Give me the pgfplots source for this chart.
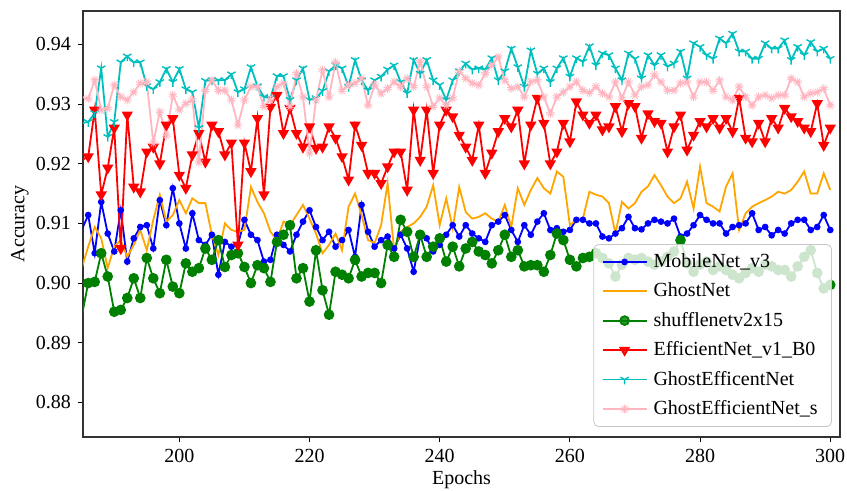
\documentclass[border=0pt]{standalone}
\usepackage{fontspec}
\setmainfont{Liberation Serif}
\usepackage{pgfplots}
\usepackage{pgfplotstable}
\pgfplotsset{compat=1.18}
\usetikzlibrary{plotmarks}
\definecolor{mplblue}{RGB}{0,0,255}
\definecolor{mplorange}{RGB}{255,165,0}
\definecolor{mplgreen}{RGB}{0,128,0}
\definecolor{mplred}{RGB}{255,0,0}
\definecolor{mplcyan}{RGB}{0,191,191}
\definecolor{mplpink}{RGB}{255,182,193}

\pgfplotstableread{
e b o g r c p
185 0.9089 0.9025 0.8944 0.9206 0.9268 0.9312
186 0.9114 0.9061 0.9000 0.9212 0.9270 0.9309
187 0.9050 0.9094 0.9002 0.9290 0.9285 0.9340
188 0.9136 0.9075 0.9050 0.9148 0.9360 0.9290
189 0.9083 0.9025 0.9011 0.9193 0.9245 0.9293
190 0.9053 0.9061 0.8952 0.9260 0.9270 0.9332
191 0.9122 0.9072 0.8955 0.9058 0.9370 0.9312
192 0.9036 0.9044 0.8975 0.9282 0.9380 0.9307
193 0.9075 0.9064 0.9008 0.9161 0.9370 0.9320
194 0.9094 0.9089 0.8975 0.9153 0.9370 0.9335
195 0.9097 0.9055 0.9042 0.9220 0.9330 0.9337
196 0.9058 0.9106 0.9008 0.9228 0.9325 0.9235
197 0.9139 0.9148 0.8983 0.9200 0.9337 0.9287
198 0.9097 0.9103 0.9039 0.9265 0.9359 0.9248
199 0.9159 0.9114 0.8994 0.9276 0.9337 0.9315
200 0.9100 0.9139 0.8983 0.9181 0.9359 0.9290
201 0.9058 0.9117 0.9033 0.9159 0.9325 0.9301
202 0.9117 0.9142 0.9019 0.9215 0.9320 0.9307
203 0.9072 0.9134 0.9025 0.9251 0.9260 0.9203
204 0.9064 0.9134 0.9058 0.9203 0.9339 0.9323
205 0.9081 0.9081 0.9039 0.9265 0.9340 0.9340
206 0.9014 0.9047 0.9072 0.9254 0.9340 0.9323
207 0.9069 0.9100 0.9027 0.9215 0.9340 0.9323
208 0.9061 0.9089 0.9047 0.9235 0.9350 0.9307
209 0.9064 0.9086 0.9050 0.9064 0.9320 0.9265
210 0.9106 0.9089 0.9027 0.9235 0.9325 0.9307
211 0.9081 0.9161 0.9000 0.9187 0.9362 0.9329
212 0.9072 0.9136 0.9030 0.9276 0.9330 0.9329
213 0.9036 0.9117 0.9025 0.9148 0.9312 0.9296
214 0.9039 0.9086 0.9002 0.9295 0.9310 0.9307
215 0.9081 0.9072 0.9069 0.9315 0.9347 0.9329
216 0.9064 0.9103 0.9081 0.9251 0.9347 0.9335
217 0.9053 0.9097 0.9097 0.9293 0.9307 0.9296
218 0.9081 0.9114 0.9008 0.9251 0.9340 0.9351
219 0.9103 0.9131 0.9025 0.9228 0.9360 0.9312
220 0.9122 0.9108 0.8969 0.9262 0.9307 0.9218
221 0.9094 0.9083 0.9055 0.9226 0.9310 0.9307
222 0.9072 0.9050 0.8988 0.9228 0.9322 0.9357
223 0.9086 0.9064 0.8947 0.9262 0.9355 0.9312
224 0.9061 0.9083 0.9019 0.9243 0.9365 0.9370
225 0.9072 0.9055 0.9014 0.9212 0.9360 0.9323
226 0.9089 0.9128 0.9008 0.9173 0.9329 0.9332
227 0.9044 0.9150 0.9039 0.9265 0.9374 0.9335
228 0.9131 0.9114 0.9011 0.9231 0.9340 0.9343
229 0.9086 0.9072 0.9017 0.9184 0.9323 0.9298
230 0.9061 0.9067 0.9017 0.9184 0.9340 0.9332
231 0.9072 0.9097 0.9000 0.9167 0.9346 0.9318
232 0.9078 0.9167 0.9064 0.9195 0.9358 0.9326
233 0.9058 0.9055 0.9044 0.9220 0.9365 0.9337
234 0.9081 0.9086 0.9106 0.9220 0.9337 0.9329
235 0.9058 0.9094 0.9086 0.9156 0.9318 0.9343
236 0.9019 0.9100 0.9044 0.9290 0.9374 0.9329
237 0.9078 0.9111 0.9081 0.9206 0.9351 0.9371
238 0.9075 0.9128 0.9044 0.9290 0.9374 0.9329
239 0.9053 0.9164 0.9061 0.9184 0.9340 0.9296
240 0.9064 0.9097 0.9075 0.9265 0.9332 0.9310
241 0.9081 0.9142 0.9036 0.9290 0.9307 0.9298
242 0.9097 0.9092 0.9061 0.9279 0.9340 0.9310
243 0.9078 0.9161 0.9028 0.9248 0.9355 0.9355
244 0.9097 0.9119 0.9058 0.9228 0.9368 0.9343
245 0.9083 0.9108 0.9069 0.9206 0.9358 0.9335
246 0.9075 0.9111 0.9053 0.9265 0.9360 0.9332
247 0.9069 0.9117 0.9047 0.9184 0.9358 0.9351
248 0.9097 0.9108 0.9033 0.9218 0.9377 0.9365
249 0.9103 0.9103 0.9055 0.9254 0.9340 0.9379
250 0.9114 0.9131 0.9081 0.9276 0.9355 0.9340
251 0.9089 0.9094 0.9044 0.9262 0.9393 0.9326
252 0.9069 0.9159 0.9055 0.9290 0.9362 0.9329
253 0.9097 0.9131 0.9028 0.9200 0.9329 0.9312
254 0.9081 0.9156 0.9030 0.9265 0.9390 0.9337
255 0.9103 0.9176 0.9030 0.9310 0.9351 0.9340
256 0.9117 0.9159 0.9019 0.9268 0.9360 0.9312
257 0.9089 0.9150 0.9047 0.9200 0.9337 0.9284
258 0.9092 0.9187 0.9083 0.9220 0.9360 0.9312
259 0.9086 0.9178 0.9072 0.9268 0.9377 0.9320
260 0.9089 0.9097 0.9039 0.9237 0.9346 0.9329
261 0.9106 0.9106 0.9028 0.9304 0.9377 0.9337
262 0.9106 0.9108 0.9042 0.9282 0.9371 0.9323
263 0.9100 0.9153 0.9044 0.9268 0.9397 0.9319
264 0.9100 0.9148 0.9050 0.9282 0.9365 0.9329
265 0.9078 0.9145 0.9042 0.9257 0.9385 0.9318
266 0.9075 0.9134 0.9033 0.9262 0.9382 0.9312
267 0.9083 0.9083 0.9011 0.9296 0.9360 0.9337
268 0.9092 0.9136 0.9031 0.9254 0.9340 0.9310
269 0.9111 0.9125 0.9042 0.9301 0.9385 0.9337
270 0.9092 0.9134 0.9039 0.9296 0.9376 0.9315
271 0.9090 0.9153 0.9042 0.9243 0.9343 0.9329
272 0.9100 0.9162 0.9036 0.9284 0.9382 0.9332
273 0.9106 0.9181 0.9031 0.9271 0.9365 0.9349
274 0.9103 0.9164 0.9036 0.9268 0.9382 0.9337
275 0.9100 0.9145 0.9044 0.9220 0.9363 0.9323
276 0.9108 0.9134 0.9053 0.9262 0.9368 0.9323
277 0.9078 0.9142 0.9072 0.9282 0.9388 0.9335
278 0.9083 0.9170 0.9033 0.9223 0.9343 0.9337
279 0.9097 0.9125 0.9019 0.9248 0.9402 0.9312
280 0.9114 0.9195 0.9031 0.9271 0.9396 0.9337
281 0.9106 0.9134 0.9036 0.9262 0.9382 0.9337
282 0.9100 0.9128 0.9022 0.9276 0.9376 0.9323
283 0.9100 0.9120 0.9028 0.9260 0.9410 0.9340
284 0.9083 0.9162 0.9022 0.9276 0.9402 0.9312
285 0.9094 0.9184 0.9014 0.9254 0.9418 0.9307
286 0.9097 0.9089 0.9008 0.9310 0.9388 0.9329
287 0.9100 0.9117 0.9017 0.9243 0.9388 0.9312
288 0.9117 0.9128 0.9025 0.9237 0.9376 0.9298
289 0.9089 0.9134 0.9019 0.9268 0.9376 0.9312
290 0.9094 0.9139 0.9031 0.9237 0.9402 0.9315
291 0.9080 0.9145 0.9028 0.9276 0.9393 0.9310
292 0.9089 0.9153 0.9022 0.9260 0.9393 0.9315
293 0.9083 0.9150 0.9022 0.9293 0.9407 0.9315
294 0.9100 0.9156 0.9011 0.9279 0.9374 0.9343
295 0.9106 0.9170 0.9028 0.9271 0.9396 0.9337
296 0.9106 0.9187 0.9044 0.9260 0.9382 0.9312
297 0.9089 0.9150 0.9055 0.9254 0.9404 0.9318
298 0.9094 0.9150 0.9017 0.9301 0.9388 0.9320
299 0.9114 0.9184 0.8991 0.9231 0.9393 0.9326
300 0.9089 0.9156 0.8997 0.9260 0.9376 0.9298
}\data

\begin{document}
\begin{tikzpicture}
\begin{axis}[name=ax, scale only axis, width=378.5pt, height=213pt,
  xmin=185.2, xmax=301.5, ymin=0.8742, ymax=0.9456,
  xtick={200,220,240,260,280,300},
  ytick={0.88,0.89,0.90,0.91,0.92,0.93,0.94},
  tick align=outside, tick pos=left, major tick length=2.5pt,
  every tick/.style={black, line width=0.5pt},
  axis line style={black!80, line width=0.6pt},
  font=\fontsize{10}{12}\selectfont,
  /pgf/number format/assume math mode=true,
  yticklabel style={/pgf/number format/.cd, fixed, fixed zerofill, precision=2},
  xticklabel style={/pgf/number format/1000 sep={}},
  xlabel={Epochs}, ylabel={Accuracy},
  xlabel style={at={(axis description cs:0.5,-0.101)}, anchor=center},
  ylabel style={at={(axis description cs:-0.0832,0.5)}, anchor=center},
  legend cell align=left,
  legend style={at={(axis description cs:0.9894,0.0235)}, anchor=south east,
    draw=black!22, rounded corners=2.5pt, fill=white, fill opacity=0.8, text opacity=1,
    font=\fontsize{10}{12}\selectfont, row sep=2.2pt, inner xsep=4pt, inner ysep=2.5pt,
    nodes={inner xsep=3pt}},
  legend image code/.code={\draw[mark repeat=2,mark phase=2] plot coordinates {(0pt,0pt) (11pt,0pt) (22pt,0pt)};},
  every axis plot/.append style={line width=0.9pt},
]
\addplot[mplblue, mark=*, mark size=1.2pt] table[x=e, y=b] {\data};
\addlegendentry{MobileNet\_v3}
\addplot[mplorange, no marks] table[x=e, y=o] {\data};
\addlegendentry{GhostNet}
\addplot[mplgreen, mark=*, mark size=2.2pt] table[x=e, y=g] {\data};
\addlegendentry{shufflenetv2x15}
\addplot[mplred, mark=triangle*, mark size=2.4pt, mark options={rotate=180}] table[x=e, y=r] {\data};
\addlegendentry{EfficientNet\_v1\_B0}
\addplot[mplcyan, mark=Mercedes star flipped, mark size=2.4pt, mark options={line width=0.7pt}] table[x=e, y=c] {\data};
\addlegendentry{GhostEfficentNet}
\addplot[mplpink, mark=10-pointed star, mark size=2.2pt, mark options={line width=0.4pt}] table[x=e, y=p] {\data};
\addlegendentry{GhostEfficientNet\_s}
\end{axis}
\pgfresetboundingbox
\path[use as bounding box] ([shift={(-41.5pt,-26.5pt)}]ax.south west) rectangle ([shift={(3.5pt,5.5pt)}]ax.north east);
\end{tikzpicture}
\end{document}
